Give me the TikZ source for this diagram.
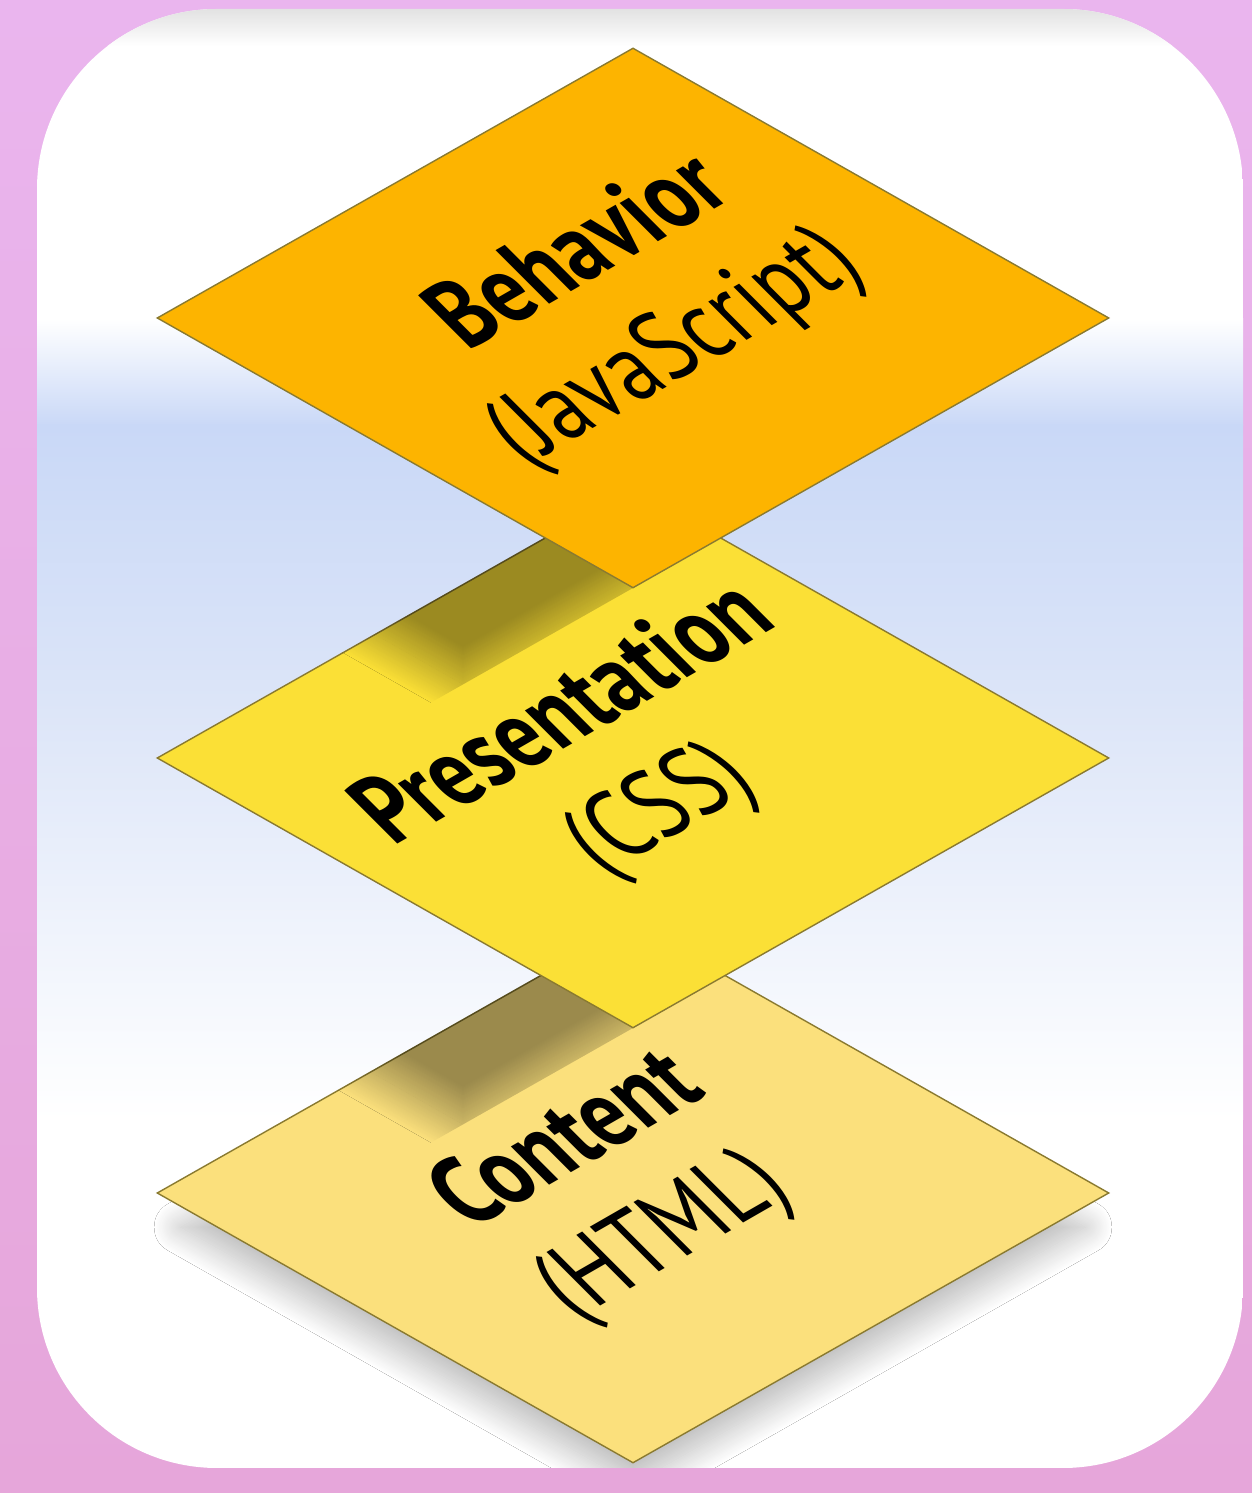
\documentclass[tikz,border=0pt]{standalone}
\usepackage{fontspec}
\setmainfont{PT Sans}
\usetikzlibrary{shapes.geometric,shadows.blur}
\definecolor{bgpink}{HTML}{EAB5EE}
\definecolor{bgpinkb}{HTML}{E6A6DA}
\definecolor{skyblue}{HTML}{C9D8F7}
\definecolor{skyblueb}{HTML}{DCE5F8}
\definecolor{topgray}{HTML}{E2E2E2}
\definecolor{behfill}{HTML}{FDB400}
\definecolor{prefill}{HTML}{FBE036}
\definecolor{confill}{HTML}{FBE07C}
\definecolor{edgeolive}{HTML}{8A7A30}
\tikzset{
  layer/.style={diamond, minimum width=476pt, minimum height=270pt, inner sep=0pt,
    draw=edgeolive, line width=0.7pt},
  lbl/.style={align=center, font=\fontsize{41}{51}\selectfont, inner sep=0pt, transform shape},
  castshadow/.style={blur shadow={shadow xshift=-85pt, shadow yshift=-48pt,
    shadow blur radius=16pt, shadow blur steps=40, shadow opacity=38}},
  dropshadow/.style={blur shadow={shadow xshift=0pt, shadow yshift=-18pt,
    shadow scale=0.95, shadow blur radius=14pt, shadow blur steps=40, shadow opacity=28}},
  slant/.style={cm={0.867,0.498,-0.933,0.933,#1}},
}
\begin{document}
\begin{tikzpicture}[x=0.5pt,y=0.5pt]
\useasboundingbox (0,0) rectangle (1252,1493);
\shade[top color=bgpink, bottom color=bgpinkb] (0,0) rectangle (1252,1493);
% panel
\begin{scope}
\clip[rounded corners=90pt] (37,25) rectangle (1243,1484);
\fill[white] (37,25) rectangle (1243,1484);
\shade[top color=topgray, bottom color=white] (37,1447) rectangle (1243,1484);
\shade[top color=white, bottom color=skyblue] (37,1067) rectangle (1243,1174);
\shade[top color=skyblue, bottom color=skyblueb] (37,792) rectangle (1243,1068);
\shade[top color=skyblueb, bottom color=white] (37,373) rectangle (1243,793);
% drop shadow of the lowest layer
\path[shift={(633,300)}, dropshadow] (-476,0) -- (0,270) -- (476,0) -- (0,-270) -- cycle;
\end{scope}
% content layer
\node[layer, fill=confill] (con) at (633,300) {};
\begin{scope}
\clip (con.west) -- (con.north) -- (con.east) -- (con.south) -- cycle;
\clip (1109,735) -- (633,465) -- (-319,-75) -- (-319,1500) -- (1109,1500) -- cycle;
\path[shift={(633,735)}, castshadow] (-476,0) -- (0,270) -- (476,0) -- (0,-270) -- cycle;
\end{scope}
% presentation layer
\node[layer, fill=prefill] (pre) at (633,735) {};
\begin{scope}
\clip (pre.west) -- (pre.north) -- (pre.east) -- (pre.south) -- cycle;
\clip (1109,1175) -- (633,905) -- (-319,365) -- (-319,1500) -- (1109,1500) -- cycle;
\path[shift={(633,1175)}, castshadow] (-476,0) -- (0,270) -- (476,0) -- (0,-270) -- cycle;
\end{scope}
% behavior layer
\node[layer, fill=behfill] (beh) at (633,1175) {};
% labels
\begin{scope}[slant={(630,1190)}]
\node[lbl] (tb) at (0,0) {\textbf{Behavior}\\(JavaScript)};
\end{scope}
\begin{scope}[slant={(615,728)}]
\node[lbl] (tp) at (0,0) {\textbf{Presentation}\\(CSS)};
\end{scope}
\begin{scope}[slant={(618,302)}]
\node[lbl] (tc) at (0,0) {\textbf{Content}\\(HTML)};
\end{scope}
\end{tikzpicture}
\end{document}
